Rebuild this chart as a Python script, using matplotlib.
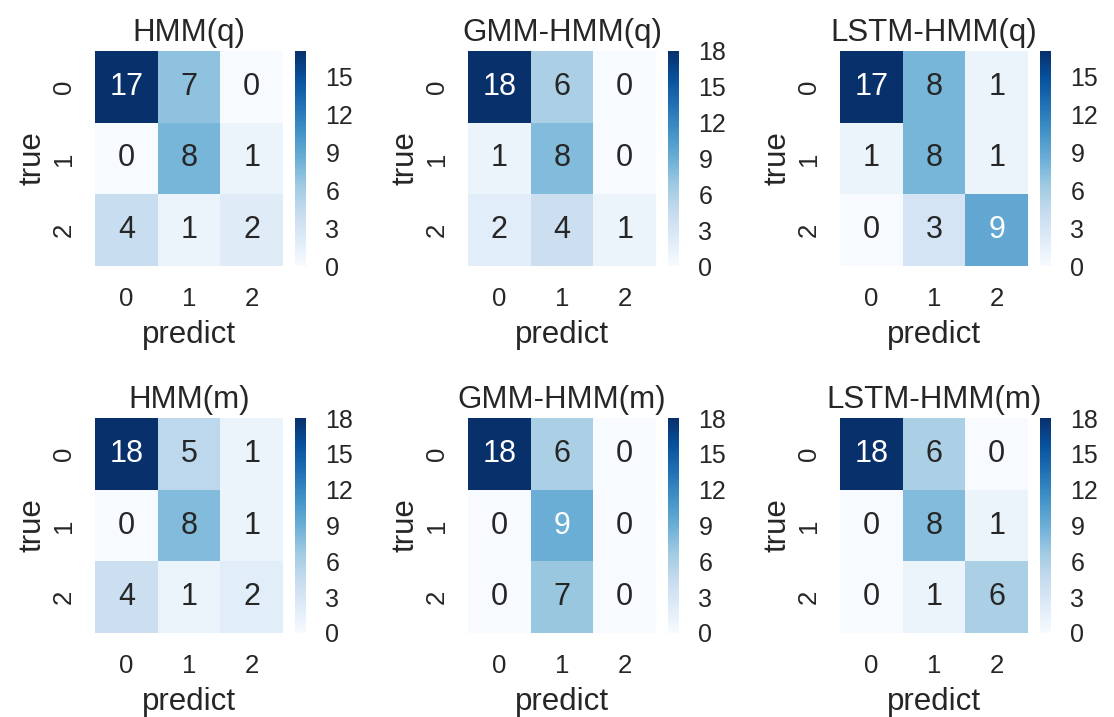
import numpy as np
import matplotlib
matplotlib.use('Agg')
import matplotlib.pyplot as plt
import seaborn as sns
from matplotlib.ticker import MultipleLocator

sns.set_theme(style='darkgrid')
plt.rcParams['font.family'] = ['Liberation Sans', 'DejaVu Sans']

titles = ['HMM(q)', 'GMM-HMM(q)', 'LSTM-HMM(q)', 'HMM(m)', 'GMM-HMM(m)', 'LSTM-HMM(m)']
hmm_q = [[17, 7, 0], [0, 8, 1], [4, 1, 2]]
gmm_hmm_q = [[18, 6, 0], [1, 8, 0], [2, 4, 1]]
lstm_hmm_q = [[17, 8, 1], [1, 8, 1], [0, 3, 9]]
hmm_m = [[18, 5, 1], [0, 8, 1], [4, 1, 2]]
gmm_hmm_m = [[18, 6, 0], [0, 9, 0], [0, 7, 0]]
lstm_hmm_m = [[18, 6, 0], [0, 8, 1], [0, 1, 6]]
matrices = [hmm_q, gmm_hmm_q, lstm_hmm_q, hmm_m, gmm_hmm_m, lstm_hmm_m]
labels = ['0', '1', '2']

W, H = 1114, 717
fig = plt.figure(figsize=(W / 100, H / 100), dpi=100)

# pixel layout of each panel (heatmap box + colorbar strip)
lefts = [95, 468, 840]
tops = [51, 418]
hm_w, hm_h = 188, 215

for i, (name, m) in enumerate(zip(titles, matrices)):
    r, c = divmod(i, 3)
    x0, y0 = lefts[c], tops[r]
    ax = fig.add_axes([x0 / W, 1 - (y0 + hm_h) / H, hm_w / W, hm_h / H])
    cax = fig.add_axes([(x0 + 200) / W, 1 - (y0 + hm_h) / H, 11 / W, hm_h / H])
    sns.heatmap(np.array(m), annot=True, fmt='d', cmap='Blues', ax=ax, cbar_ax=cax,
                xticklabels=labels, yticklabels=labels,
                annot_kws={'fontsize': 22})
    ax.set_title(name, fontsize=22.5, pad=7)
    ax.set_xlabel('predict', fontsize=22.5, labelpad=6.5)
    ax.set_ylabel('true', fontsize=22.5, labelpad=3)
    ax.tick_params(axis='x', labelsize=18.5, length=0, pad=15)
    ax.tick_params(axis='y', labelsize=18.5, length=0, pad=14)
    plt.setp(ax.get_yticklabels(), rotation=90, va='center')

    cbar = ax.collections[0].colorbar
    cbar.locator = MultipleLocator(3)
    cbar.update_ticks()
    cbar.outline.set_visible(False)
    cbar.ax.tick_params(labelsize=18, length=0, pad=14)

fig.savefig('out.png', dpi=100)
